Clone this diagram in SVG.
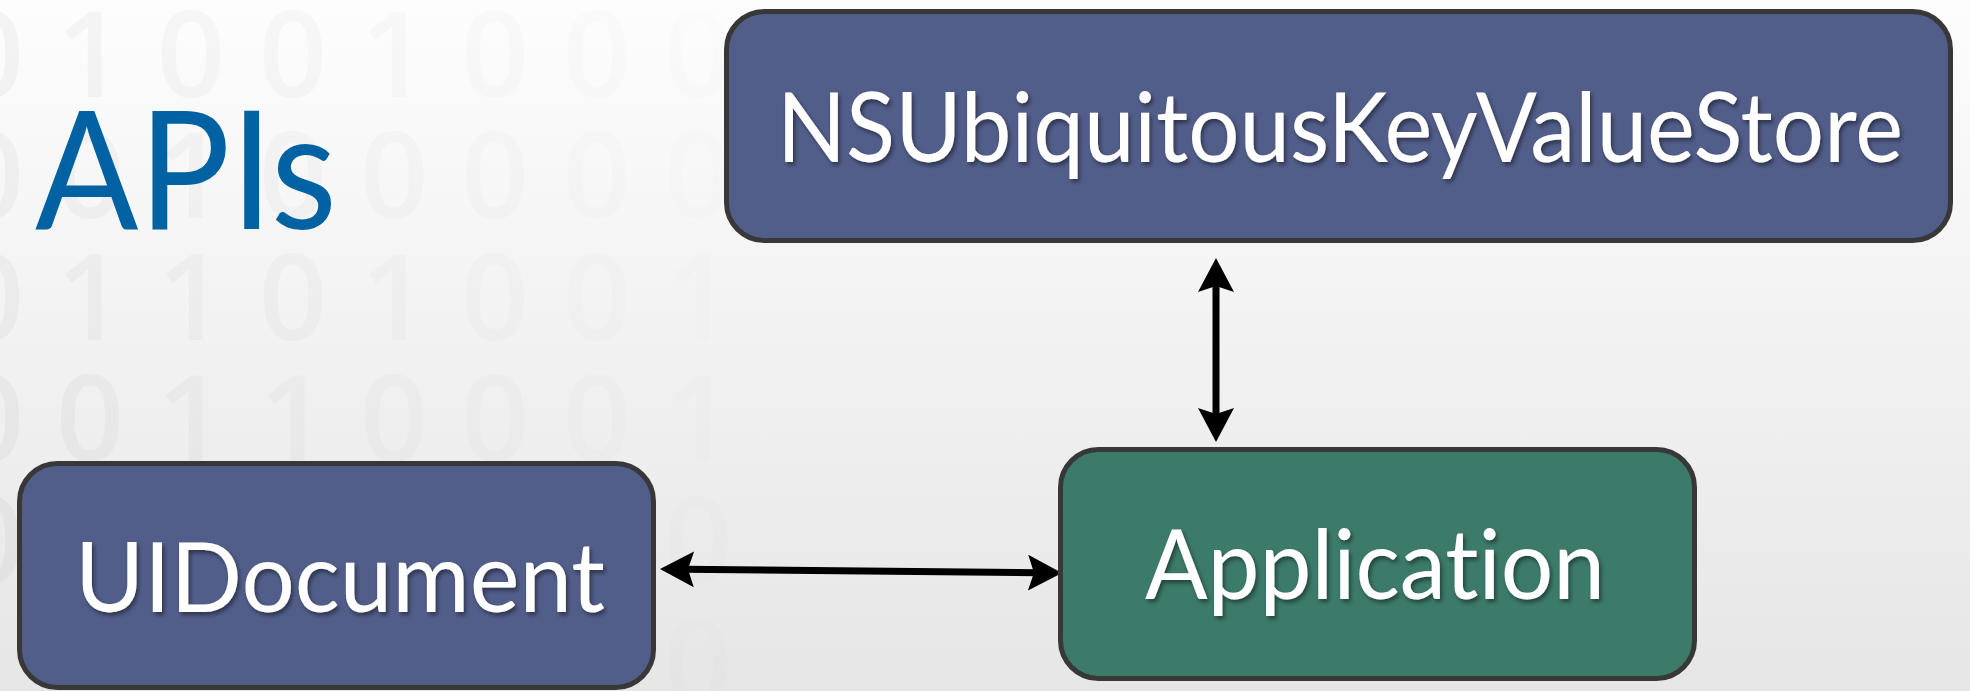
<svg xmlns="http://www.w3.org/2000/svg" width="1970" height="691" viewBox="0 0 1970 691">
  <defs>
    <linearGradient id="bg" x1="0" y1="0" x2="0" y2="1">
      <stop offset="0" stop-color="#fdfdfd"/>
      <stop offset="1" stop-color="#e6e6e6"/>
    </linearGradient>
    <linearGradient id="digitFade" gradientUnits="userSpaceOnUse" x1="0" y1="0" x2="760" y2="0">
      <stop offset="0" stop-color="#000" stop-opacity="0.035"/>
      <stop offset="0.45" stop-color="#000" stop-opacity="0.022"/>
      <stop offset="1" stop-color="#000" stop-opacity="0.007"/>
    </linearGradient>
    <filter id="textShadow" x="-5%" y="-20%" width="110%" height="150%">
      <feDropShadow dx="2" dy="3" stdDeviation="2.2" flood-color="#000" flood-opacity="0.45"/>
    </filter>
    <marker id="head" viewBox="0 0 34 36" markerUnits="userSpaceOnUse" markerWidth="34" markerHeight="36" refX="10" refY="18" orient="auto-start-reverse">
      <path d="M0,0 L34,18 L0,36 L6,18 Z" fill="#000"/>
    </marker>
  </defs>
  <style>
    .box { stroke: #383838; stroke-width: 5; }
    .blue { fill: #525e8a; }
    .green { fill: #3c7a6a; }
    .label { font-family: Lato, "Open Sans", "Liberation Sans", sans-serif; font-size: 96px; fill: #ffffff; text-anchor: middle; font-variant-ligatures: none; filter: url(#textShadow); }
    .digits { font-family: "Open Sans", "Liberation Sans", sans-serif; font-weight: 600; font-size: 120px; text-anchor: middle; fill: url(#digitFade); }
    .link { fill: none; stroke: #000; stroke-width: 7; marker-start: url(#head); marker-end: url(#head); }
  </style>

  <!-- backdrop -->
  <rect x="0" y="0" width="1970" height="691" fill="url(#bg)"/>
  <g id="binary-backdrop" class="digits">
    <text x="-10 90 191 293 394 495 597 698" y="97">01001000</text>
    <text x="-10 90 191 293 394 495 597 698" y="218">00100000</text>
    <text x="-10 90 191 293 394 495 597 698" y="340">01101001</text>
    <text x="-10 90 191 293 394 495 597 698" y="461">00110001</text>
    <text x="-10 698" y="583">00</text>
    <text x="698" y="705">0</text>
  </g>

  <!-- heading -->
  <text id="title" x="35" y="229" font-family="Lato, 'Open Sans', 'Liberation Sans', sans-serif" font-size="164" fill="#0061a3" textLength="302" lengthAdjust="spacingAndGlyphs">APIs</text>

  <!-- connectors -->
  <g id="connectors">
    <path class="link" d="M1216,282 L1216,418"/>
    <path class="link" d="M684,569.2 L1038,572.8"/>
  </g>

  <!-- nodes -->
  <g id="node-kvstore">
    <rect class="box blue" x="726.5" y="11.5" width="1224" height="229" rx="38" ry="38"/>
    <text class="label" x="1340" y="162" textLength="1126" lengthAdjust="spacingAndGlyphs">NSUbiquitousKeyValueStore</text>
  </g>
  <g id="node-uidocument">
    <rect class="box blue" x="19.5" y="463.5" width="634" height="224" rx="38" ry="38"/>
    <text class="label" x="340" y="612" textLength="530" lengthAdjust="spacingAndGlyphs">UIDocument</text>
  </g>
  <g id="node-application">
    <rect class="box green" x="1060.5" y="449.5" width="634" height="229" rx="38" ry="38"/>
    <text class="label" x="1375" y="599" textLength="460" lengthAdjust="spacingAndGlyphs">Application</text>
  </g>
</svg>
